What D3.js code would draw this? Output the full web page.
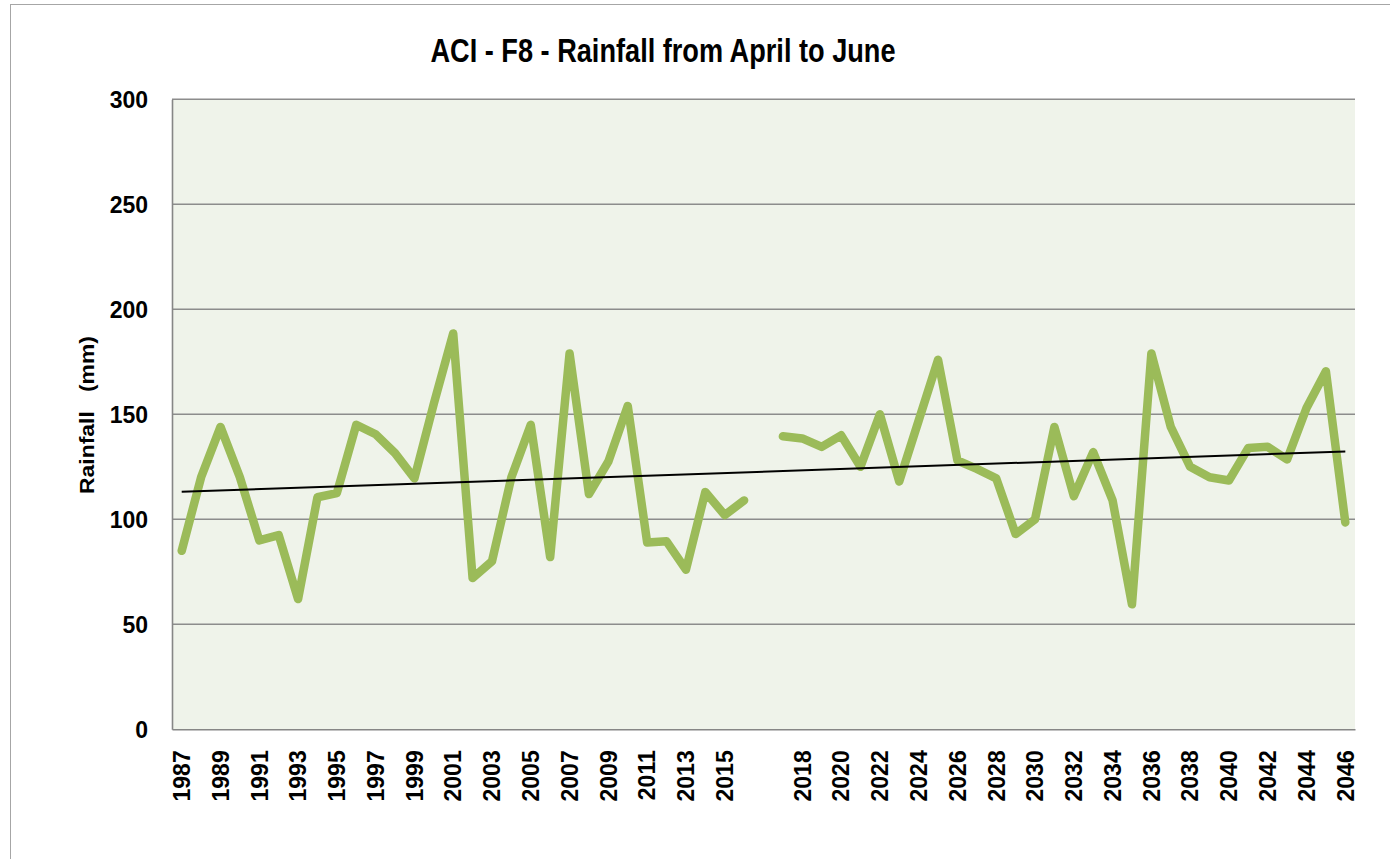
<!DOCTYPE html>
<html>
<head>
<meta charset="utf-8">
<script src="https://cdn.jsdelivr.net/npm/d3@7"></script>
<style>
html,body{margin:0;padding:0;background:#fff;}
svg{display:block;}
</style>
</head>
<body>
<svg id="chart" width="1390" height="859"></svg>
<script>
// ---- data ----
const categories = [
  "1987","1988","1989","1990","1991","1992","1993","1994","1995","1996",
  "1997","1998","1999","2000","2001","2002","2003","2004","2005","2006",
  "2007","2008","2009","2010","2011","2012","2013","2014","2015","2016",
  "",
  "2017","2018","2019","2020","2021","2022","2023","2024","2025","2026",
  "2027","2028","2029","2030","2031","2032","2033","2034","2035","2036",
  "2037","2038","2039","2040","2041","2042","2043","2044","2045","2046"
];
const rainfall = [
  85, 120, 144, 120, 90, 92.5, 62, 110.5, 112.5, 145,
  140.5, 131.5, 119.5, 155, 188.5, 72, 80, 120, 145, 82,
  179, 112, 127.5, 154, 89, 89.5, 76, 113, 102, 109,
  null,
  139.5, 138.5, 134.5, 140, 125, 150, 118, 147, 176, 128,
  124, 119.5, 93, 100, 144, 111, 132, 109, 59.5, 179,
  144, 125, 120, 118.5, 134, 134.5, 128.5, 153, 170.5, 98.5
];
const yTicks = [0, 50, 100, 150, 200, 250, 300];
const titleText = "ACI - F8 - Rainfall from April to June";
const yTitleText = "Rainfall\u00A0\u00A0\u00A0(mm)";

// ---- layout ----
const svg = d3.select("#chart");
const L = 172, R = 1355, T = 99.3, B = 729.3;

// outer chart border
svg.append("rect").attr("x", 10.5).attr("y", 4.5).attr("width", 1420).attr("height", 900)
  .attr("fill", "#fff").attr("stroke", "#a6a6a6").attr("stroke-width", 1);

// plot area background
svg.append("rect").attr("x", L).attr("y", T).attr("width", R - L).attr("height", B - T)
  .attr("fill", "#eff3ea");

const idx = categories.map((c, i) => i);
const x = d3.scaleBand().domain(idx).range([L, R]).paddingInner(0).paddingOuter(0);
const xc = i => x(i) + x.bandwidth() / 2;
const y = d3.scaleLinear().domain([0, 300]).range([B, T]);

// gridlines
svg.append("g").selectAll("line").data(yTicks.filter(t => t > 0)).join("line")
  .attr("x1", L).attr("x2", R).attr("y1", d => y(d)).attr("y2", d => y(d))
  .attr("stroke", "#8c8c8c").attr("stroke-width", 1.4);

// y axis
const yAxis = svg.append("g").attr("transform", `translate(${L},0)`)
  .call(d3.axisLeft(y).tickValues(yTicks).tickSize(0).tickPadding(24));
yAxis.select(".domain").attr("stroke", "#868686").attr("stroke-width", 1.6);
yAxis.selectAll("text").attr("font-family", "Liberation Sans, Arial, sans-serif")
  .attr("font-weight", "bold").attr("font-size", 23).attr("fill", "#000")
  .attr("dy", "0.36em");

// x axis
const xAxis = svg.append("g").attr("transform", `translate(0,${B})`)
  .call(d3.axisBottom(x).tickValues(idx.filter(i => i % 2 === 0)).tickFormat(i => categories[i]).tickSize(0));
xAxis.select(".domain").attr("stroke", "#868686").attr("stroke-width", 1.6);
xAxis.selectAll("text")
  .attr("font-family", "Liberation Sans, Arial, sans-serif")
  .attr("font-weight", "bold").attr("font-size", 23).attr("fill", "#000")
  .attr("text-anchor", "end")
  .attr("transform", "rotate(-90)")
  .attr("x", -21).attr("y", 0).attr("dy", "0.36em");

// series line
const line = d3.line().defined(d => d.v != null).x(d => xc(d.i)).y(d => y(d.v));
const pts = rainfall.map((v, i) => ({ i, v }));
svg.append("path").datum(pts).attr("d", line)
  .attr("fill", "none").attr("stroke", "#9bbb59").attr("stroke-width", 8.5)
  .attr("stroke-linejoin", "round").attr("stroke-linecap", "round");

// linear trendline (least squares over category positions 1..n, blanks skipped)
const valid = pts.filter(d => d.v != null);
const mx = d3.mean(valid, d => d.i + 1), my = d3.mean(valid, d => d.v);
const slope = d3.sum(valid, d => (d.i + 1 - mx) * (d.v - my)) / d3.sum(valid, d => (d.i + 1 - mx) ** 2);
const icpt = my - slope * mx;
const tr = [0, categories.length - 1].map(i => ({ i, v: icpt + slope * (i + 1) }));
svg.append("path").datum(tr).attr("d", d3.line().x(d => xc(d.i)).y(d => y(d.v)))
  .attr("fill", "none").attr("stroke", "#000").attr("stroke-width", 2);

// title
svg.append("text").attr("x", 663).attr("y", 62).attr("text-anchor", "middle")
  .attr("font-family", "Liberation Sans Narrow, Liberation Sans, Arial, sans-serif")
  .attr("font-weight", "bold").attr("font-size", 33).attr("fill", "#000")
  .attr("textLength", 465).attr("lengthAdjust", "spacingAndGlyphs")
  .text(titleText);

// y title
svg.append("text").attr("transform", "translate(94,415) rotate(-90)")
  .attr("text-anchor", "middle")
  .attr("font-family", "Liberation Sans, Arial, sans-serif")
  .attr("font-weight", "bold").attr("font-size", 20).attr("fill", "#000")
  .attr("textLength", 158).attr("lengthAdjust", "spacingAndGlyphs")
  .text(yTitleText);
</script>
</body>
</html>
